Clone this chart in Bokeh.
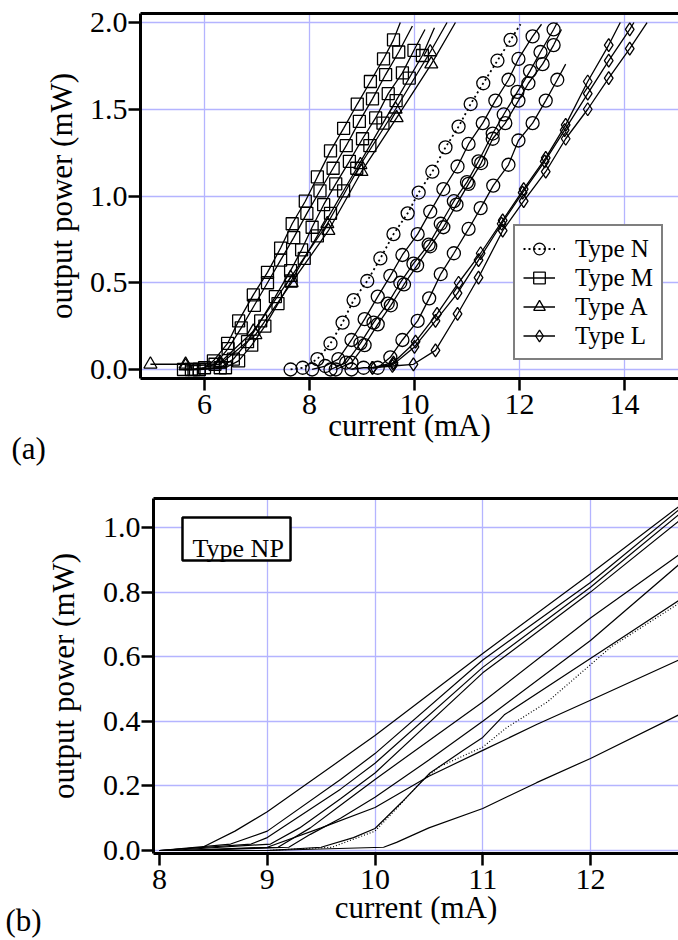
import numpy as np
from bokeh.plotting import figure
from bokeh.models import (FixedTicker, PrintfTickFormatter, Label, Legend, LegendItem,
                          LinearAxis, BoxAnnotation, Range1d, Title)
from bokeh.embed import file_html
from bokeh.resources import INLINE

FONT = "Liberation Serif"
GRID = "#b4b4ff"

# ---------------- Panel (a) data: current (mA) vs output power (mW) ----------------
typeN_1_x = [7.64, 7.87, 8.15, 8.4, 8.63, 8.84, 9.1, 9.35, 9.6, 9.87, 10.08, 10.34, 10.59, 10.84, 11.07, 11.31, 11.58, 11.83, 12.02]
typeN_1_y = [0.0, 0.01, 0.06, 0.15, 0.27, 0.40, 0.51, 0.64, 0.78, 0.90, 1.02, 1.14, 1.28, 1.40, 1.53, 1.65, 1.78, 1.90, 1.99]
typeN_2_x = [8.05, 8.3, 8.55, 8.8, 9.05, 9.3, 9.54, 9.77, 10.06, 10.3, 10.55, 10.82, 11.03, 11.3, 11.54, 11.79, 11.98, 12.25, 12.42]
typeN_2_y = [0.0, 0.02, 0.06, 0.17, 0.29, 0.42, 0.54, 0.66, 0.78, 0.91, 1.04, 1.17, 1.30, 1.42, 1.55, 1.67, 1.79, 1.92, 1.99]
typeN_3_x = [8.4, 8.7, 8.97, 9.22, 9.49, 9.73, 9.98, 10.27, 10.5, 10.75, 11.0, 11.22, 11.49, 11.7, 11.96, 12.2, 12.4, 12.65, 12.72]
typeN_3_y = [0.0, 0.04, 0.15, 0.27, 0.38, 0.50, 0.61, 0.72, 0.84, 0.97, 1.08, 1.20, 1.36, 1.47, 1.60, 1.72, 1.83, 1.96, 2.0]
typeN_4_x = [8.5, 8.8, 9.05, 9.3, 9.55, 9.8, 10.05, 10.3, 10.55, 10.8, 11.03, 11.27, 11.49, 11.73, 11.98, 12.17, 12.44, 12.65, 12.8]
typeN_4_y = [0.0, 0.04, 0.14, 0.26, 0.37, 0.49, 0.60, 0.71, 0.82, 0.95, 1.07, 1.19, 1.33, 1.42, 1.55, 1.65, 1.76, 1.87, 1.96]
typeN_5_x = [8.8, 9.03, 9.3, 9.54, 9.77, 10.06, 10.28, 10.5, 10.75, 11.03, 11.26, 11.5, 11.79, 11.98, 12.25, 12.5, 12.72, 12.88]
typeN_5_y = [0.0, 0.01, 0.01, 0.07, 0.17, 0.28, 0.41, 0.55, 0.67, 0.81, 0.93, 1.06, 1.18, 1.32, 1.42, 1.55, 1.67, 1.76]

typeM_1_x = [5.75, 6.0, 6.17, 6.44, 6.65, 6.93, 7.2, 7.45, 7.67, 7.92, 8.15, 8.4, 8.65, 8.91, 9.16, 9.41, 9.6, 9.73]
typeM_1_y = [0.0, 0.01, 0.05, 0.15, 0.28, 0.43, 0.56, 0.70, 0.84, 0.97, 1.11, 1.26, 1.39, 1.53, 1.66, 1.79, 1.90, 2.0]
typeM_2_x = [5.6, 5.9, 6.2, 6.45, 6.7, 6.95, 7.2, 7.45, 7.7, 7.95, 8.2, 8.45, 8.7, 8.95, 9.2, 9.45, 9.7, 9.96]
typeM_2_y = [0.0, 0.0, 0.03, 0.12, 0.24, 0.37, 0.50, 0.63, 0.76, 0.90, 1.03, 1.16, 1.29, 1.43, 1.56, 1.70, 1.83, 1.98]
typeM_3_x = [5.8, 6.3, 6.55, 6.82, 7.07, 7.35, 7.64, 7.85, 8.05, 8.27, 8.5, 8.76, 9.01, 9.26, 9.5, 9.77, 9.99, 10.2]
typeM_3_y = [0.0, 0.01, 0.06, 0.16, 0.28, 0.42, 0.57, 0.69, 0.82, 0.95, 1.07, 1.20, 1.33, 1.45, 1.59, 1.71, 1.84, 1.96]
typeM_4_x = [5.9, 6.4, 6.65, 6.9, 7.15, 7.4, 7.65, 7.9, 8.15, 8.4, 8.65, 8.9, 9.15, 9.4, 9.65, 9.9, 10.15, 10.38]
typeM_4_y = [0.0, 0.01, 0.05, 0.14, 0.25, 0.38, 0.51, 0.64, 0.77, 0.90, 1.03, 1.16, 1.29, 1.42, 1.55, 1.68, 1.81, 1.97]

typeA_1_x = [4.97, 5.64, 6.3, 6.93, 7.64, 8.34, 8.97, 9.64, 10.3, 10.62]
typeA_1_y = [0.03, 0.03, 0.04, 0.22, 0.53, 0.84, 1.18, 1.50, 1.83, 2.0]
typeA_2_x = [5.64, 6.3, 6.97, 7.66, 8.36, 8.99, 9.66, 10.32, 10.78]
typeA_2_y = [0.02, 0.03, 0.20, 0.50, 0.80, 1.14, 1.45, 1.76, 2.0]

typeL_1_x = [9.2, 9.6, 10.02, 10.43, 10.84, 11.26, 11.68, 12.08, 12.5, 12.88, 13.3, 13.7, 13.92]
typeL_1_y = [0.01, 0.04, 0.16, 0.32, 0.50, 0.67, 0.86, 1.04, 1.22, 1.41, 1.66, 1.87, 2.0]
typeL_2_x = [9.2, 9.6, 10.0, 10.4, 10.82, 11.22, 11.66, 12.06, 12.48, 12.86, 13.3, 13.7, 14.1, 14.18]
typeL_2_y = [0.01, 0.03, 0.13, 0.28, 0.44, 0.63, 0.84, 1.02, 1.20, 1.38, 1.59, 1.78, 1.96, 2.0]
typeL_3_x = [9.2, 9.58, 9.98, 10.4, 10.82, 11.22, 11.68, 12.08, 12.5, 12.88, 13.3, 13.7, 14.1, 14.43]
typeL_3_y = [0.01, 0.02, 0.03, 0.11, 0.32, 0.53, 0.80, 0.97, 1.14, 1.33, 1.50, 1.68, 1.85, 2.0]

# ---------------- Panel (b) data: Type NP ----------------
np_1_x = [8.0, 8.4, 8.7, 9.0, 9.68, 10.0, 11.0, 12.0, 12.82]
np_1_y = [0.0, 0.01, 0.06, 0.12, 0.28, 0.356, 0.61, 0.857, 1.065]
np_2_x = [8.0, 8.66, 9.0, 9.68, 10.0, 11.0, 12.0, 12.82]
np_2_y = [0.0, 0.02, 0.06, 0.22, 0.30, 0.59, 0.83, 1.055]
np_3_x = [8.0, 8.85, 9.0, 9.68, 10.0, 11.0, 12.0, 12.82]
np_3_y = [0.0, 0.02, 0.04, 0.19, 0.27, 0.567, 0.815, 1.04]
np_4_x = [8.1, 9.03, 9.3, 9.68, 10.0, 11.0, 12.0, 12.82]
np_4_y = [0.0, 0.02, 0.07, 0.16, 0.24, 0.55, 0.80, 1.02]
np_5_x = [8.2, 9.1, 9.4, 9.68, 10.0, 11.0, 12.0, 12.82]
np_5_y = [0.0, 0.01, 0.07, 0.14, 0.22, 0.46, 0.72, 0.915]
np_6_x = [8.3, 9.2, 9.4, 9.68, 10.0, 10.5, 11.0, 12.0, 12.82]
np_6_y = [0.0, 0.01, 0.05, 0.10, 0.165, 0.28, 0.40, 0.65, 0.885]
np_7_x = [9.0, 9.6, 10.0, 10.2, 10.42, 10.6, 11.0, 11.22, 11.6, 12.19, 12.82]   # dotted
np_7_y = [0.0, 0.01, 0.06, 0.13, 0.21, 0.26, 0.32, 0.38, 0.46, 0.63, 0.765]
np_8_x = [9.0, 9.5, 9.8, 10.0, 10.25, 10.51, 10.82, 11.0, 11.2, 12.07, 12.82]
np_8_y = [0.0, 0.01, 0.04, 0.068, 0.15, 0.24, 0.31, 0.35, 0.42, 0.61, 0.774]
np_9_x = [8.2, 9.0, 9.5, 10.0, 10.5, 11.0, 11.5, 12.0, 12.82]
np_9_y = [0.0, 0.01, 0.07, 0.133, 0.23, 0.31, 0.39, 0.465, 0.59]
np_10_x = [8.0, 9.0, 10.08, 10.2, 10.5, 11.0, 11.5, 12.0, 12.82]
np_10_y = [0.0, 0.0, 0.01, 0.025, 0.07, 0.13, 0.21, 0.285, 0.42]

a_xticks = [6, 8, 10, 12, 14]
a_yticks = [0.0, 0.5, 1.0, 1.5, 2.0]
b_xticks = [8, 9, 10, 11, 12]
b_xgrid = [9, 10, 11, 12]
b_yticks = [0.0, 0.2, 0.4, 0.6, 0.8, 1.0]


def style(p, xticks, yticks, xgrid, xfmt, yfmt):
    p.outline_line_color = None
    p.background_fill_color = "white"
    p.border_fill_color = "white"
    p.xaxis.ticker = FixedTicker(ticks=xticks)
    p.yaxis.ticker = FixedTicker(ticks=yticks)
    p.xgrid.ticker = FixedTicker(ticks=xgrid)
    p.ygrid.ticker = FixedTicker(ticks=yticks)
    p.xaxis.formatter = PrintfTickFormatter(format=xfmt)
    p.yaxis.formatter = PrintfTickFormatter(format=yfmt)
    for g in (p.xgrid, p.ygrid):
        g.grid_line_color = GRID
        g.grid_line_width = 1.3
    for ax in (p.xaxis, p.yaxis):
        ax.axis_line_width = 3
        ax.axis_line_color = "black"
        ax.major_tick_line_width = 2.5
        ax.major_tick_line_color = "black"
        ax.major_tick_out = 12
        ax.major_tick_in = 0
        ax.minor_tick_out = 0
        ax.minor_tick_in = 0
        ax.major_label_text_font = FONT
        ax.major_label_text_font_size = "30px"
        ax.major_label_text_color = "black"
        ax.axis_label_text_font = FONT
        ax.axis_label_text_font_size = "31px"
        ax.axis_label_text_font_style = "normal"
        ax.axis_label_text_color = "black"
    p.xaxis.major_label_standoff = 4
    p.yaxis.major_label_standoff = 1
    top = LinearAxis(ticker=FixedTicker(ticks=[]), axis_line_width=3, axis_line_color="black",
                     major_tick_out=0, major_tick_in=0, minor_tick_out=0, minor_tick_in=0,
                     major_label_text_font_size="0px", major_label_standoff=0)
    p.add_layout(top, "above")


def panel_tag(p, tag, offset, standoff, valign):
    p.add_layout(Title(text=tag, align="left", vertical_align=valign, offset=offset,
                       standoff=standoff, text_font=FONT, text_font_size="31px",
                       text_font_style="normal", text_color="black"), "below")


# ---------------- figure (a) ----------------
pa = figure(width=678, height=475, x_range=Range1d(4.781, 15.029), y_range=Range1d(-0.052, 2.052),
            output_backend="svg", toolbar_location=None,
            min_border_left=140, min_border_right=0, min_border_top=13, min_border_bottom=97)
style(pa, a_xticks, a_yticks, a_xticks, "%d", "%.1f")
pa.below[0].axis_label = "current (mA)"
pa.below[0].axis_label_standoff = -9
pa.left[0].axis_label = "output power (mW)"
pa.left[0].axis_label_standoff = 8
panel_tag(pa, "(a)", -129, -40, "bottom")

LW = 1.3
groups = [
    ("Type N", "circle", 13, "2 3",
     [(typeN_1_x, typeN_1_y, True), (typeN_2_x, typeN_2_y, False), (typeN_3_x, typeN_3_y, False),
      (typeN_4_x, typeN_4_y, False), (typeN_5_x, typeN_5_y, False)]),
    ("Type M", "square", 12, "solid",
     [(typeM_1_x, typeM_1_y, False), (typeM_2_x, typeM_2_y, False), (typeM_3_x, typeM_3_y, False),
      (typeM_4_x, typeM_4_y, False)]),
    ("Type A", "triangle", 13, "solid",
     [(typeA_1_x, typeA_1_y, False), (typeA_2_x, typeA_2_y, False)]),
    ("Type L", "diamond", 13, "solid",
     [(typeL_1_x, typeL_1_y, False), (typeL_2_x, typeL_2_y, False), (typeL_3_x, typeL_3_y, False)]),
]

items = []
for label, marker, size, dash, curves in groups:
    first = None
    for xs, ys, dotted in curves:
        d = dash if dotted else "solid"
        lr = pa.line(xs, ys, line_color="black", line_width=LW if d == "solid" else 1.8, line_dash=d)
        sr = pa.scatter(xs[:-1], ys[:-1], marker=marker, size=size,
                        fill_color=None, line_color="black", line_width=1.3)
        if first is None:
            first = [lr, sr]
    items.append(LegendItem(label=label, renderers=first))

leg = Legend(items=items, location=(373, 18), border_line_color="black", border_line_width=2.5,
             background_fill_color="white", background_fill_alpha=1.0,
             label_text_font=FONT, label_text_font_size="25px", label_text_color="black",
             glyph_width=32, glyph_height=29, label_height=29, label_standoff=20,
             spacing=0, padding=8, margin=0)
pa.add_layout(leg)

# ---------------- figure (b) ----------------
pb = figure(width=678, height=465, x_range=Range1d(7.944, 12.817), y_range=Range1d(-0.0093, 1.0898),
            output_backend="svg", toolbar_location=None,
            min_border_left=153, min_border_right=0, min_border_top=23, min_border_bottom=87)
style(pb, b_xticks, b_yticks, b_xgrid, "%d", "%.1f")
pb.below[0].axis_label = "current (mA)"
pb.below[0].axis_label_standoff = -2
pb.left[0].axis_label = "output power (mW)"
pb.left[0].axis_label_standoff = 19
panel_tag(pb, "(b)", -148, -50, "top")

b_curves = [(np_1_x, np_1_y, "solid"), (np_2_x, np_2_y, "solid"), (np_3_x, np_3_y, "solid"),
            (np_4_x, np_4_y, "solid"), (np_5_x, np_5_y, "solid"), (np_6_x, np_6_y, "solid"),
            (np_7_x, np_7_y, "1 2"), (np_8_x, np_8_y, "solid"), (np_9_x, np_9_y, "solid"),
            (np_10_x, np_10_y, "solid")]
for xs, ys, d in b_curves:
    pb.line(xs, ys, line_color="black", line_width=1.2, line_dash=d)

pb.add_layout(BoxAnnotation(left=8.213, right=9.216, bottom=0.898, top=1.031,
                            fill_color="white", fill_alpha=1.0, line_color="black",
                            line_alpha=1.0, line_width=2.5))
pb.add_layout(Label(x=8.306, y=0.935, text="Type NP", text_font=FONT, text_font_size="26px",
                    text_align="left", text_baseline="alphabetic", text_color="black"))

# two independent roots stacked vertically (so their frames are not aligned to each other)
html = file_html([pa, pb], INLINE)
html = html.replace("<head>", "<head><style>html,body{margin:0;padding:0;}"
                    "body{display:flex;flex-direction:column;align-items:flex-start;}</style>", 1)
open("out.html", "w").write(html)
